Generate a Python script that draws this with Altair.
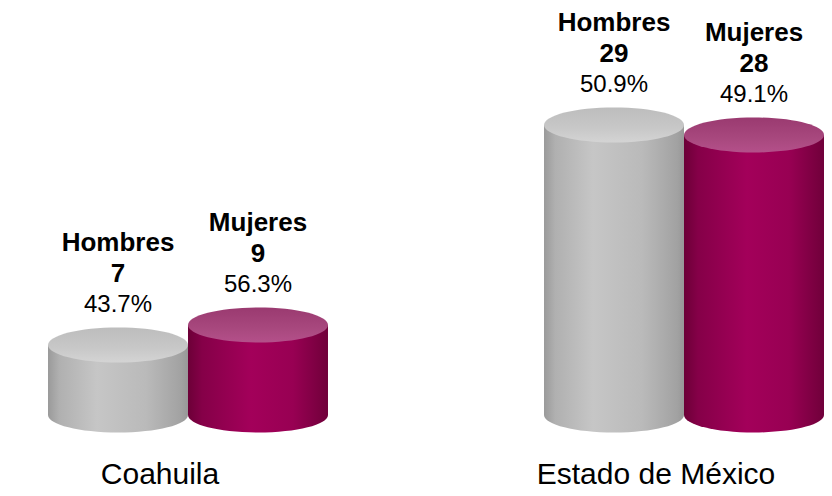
import altair as alt
import pandas as pd

estados = ["Coahuila", "Coahuila", "Estado de México", "Estado de México"]
sexos = ["Hombres", "Mujeres", "Hombres", "Mujeres"]
valores = [7, 9, 29, 28]
porcentajes = ["43.7%", "56.3%", "50.9%", "49.1%"]

df = pd.DataFrame({"estado": estados, "sexo": sexos, "valor": valores, "pct": porcentajes})

K = 0.25
C = round(0.5523 * K, 4)
ellipse = (f"M -1 0 C -1 {-C} -0.5523 {-K} 0 {-K} C 0.5523 {-K} 1 {-C} 1 0 "
           f"C 1 {C} 0.5523 {K} 0 {K} C -0.5523 {K} -1 {C} -1 0 Z")

BAR_W = 140
SYM_SIZE = BAR_W * BAR_W


def hgrad(stops):
    return alt.LinearGradient(
        gradient="linear",
        stops=[alt.GradientStop(offset=o, color=c) for o, c in stops],
        x1=0, x2=1, y1=0, y2=0,
    )


def vgrad(stops):
    return alt.LinearGradient(
        gradient="linear",
        stops=[alt.GradientStop(offset=o, color=c) for o, c in stops],
        x1=0, x2=0, y1=0, y2=1,
    )


styles = {
    "Hombres": (
        hgrad([(0, "#9a9a9a"), (0.08, "#b0b0b0"), (0.35, "#c6c6c6"), (0.7, "#bababa"), (0.95, "#a2a2a2"), (1, "#989898")]),
        vgrad([(0, "#bdbdbd"), (0.6, "#c8c8c8"), (1, "#d4d4d4")]),
    ),
    "Mujeres": (
        hgrad([(0, "#6c0037"), (0.1, "#850048"), (0.45, "#a3005a"), (0.75, "#980053"), (1, "#70003a")]),
        vgrad([(0, "#9a3a70"), (0.6, "#a8487e"), (1, "#b4508a")]),
    ),
}

x = alt.X(
    "estado:N",
    title=None,
    scale=alt.Scale(domain=["Coahuila", "Estado de México"], paddingInner=0.4355, paddingOuter=0),
    axis=alt.Axis(domain=False, ticks=False, tickSize=0, labelPadding=44, labelFontSize=30,
                  labelColor="#000000", labelFont="Liberation Sans", labelAngle=0, grid=False,
                  labelLimit=0, labelOffset=-28),
)
xo = alt.XOffset("sexo:N", scale=alt.Scale(domain=["Hombres", "Mujeres"], paddingInner=0, paddingOuter=0))
yscale = alt.Scale(domain=[0, 40.5], nice=False, zero=True)
y = alt.Y("valor:Q", scale=yscale, axis=None, title=None)
y0 = alt.Y("cero:Q", scale=yscale, axis=None, title=None)

base = alt.Chart(df)
layers = []
for s in ["Hombres", "Mujeres"]:
    body_g, top_g = styles[s]
    sub = base.transform_filter(alt.datum.sexo == s).transform_calculate(cero="0")
    layers.append(sub.mark_point(shape=ellipse, size=SYM_SIZE, filled=True, fill=body_g,
                                 opacity=1, strokeWidth=0).encode(x=x, xOffset=xo, y=y0))
    layers.append(sub.mark_bar(fill=body_g).encode(x=x, xOffset=xo, y=y))
    layers.append(sub.mark_point(shape=ellipse, size=SYM_SIZE, filled=True, fill=top_g,
                                 opacity=1, strokeWidth=0).encode(x=x, xOffset=xo, y=y))

text_font = "Liberation Sans"
layers.append(base.mark_text(dy=-102, fontSize=26, fontWeight="bold", font=text_font, color="#000000")
              .encode(x=x, xOffset=xo, y=y, text="sexo:N"))
layers.append(base.mark_text(dy=-71, fontSize=26, fontWeight="bold", font=text_font, color="#000000")
              .encode(x=x, xOffset=xo, y=y, text="valor:Q"))
layers.append(base.mark_text(dy=-40, fontSize=24, font=text_font, color="#000000")
              .encode(x=x, xOffset=xo, y=y, text="pct:N"))

chart = alt.layer(*layers).properties(
    width=776,
    height=405,
    autosize=alt.AutoSizeParams(type="none"),
    padding={"left": 40, "top": 2, "right": 0, "bottom": 73},
).configure_view(stroke=None).configure_axis(grid=False)

chart.save("out.html", embed_options={"renderer": "svg", "actions": False})
